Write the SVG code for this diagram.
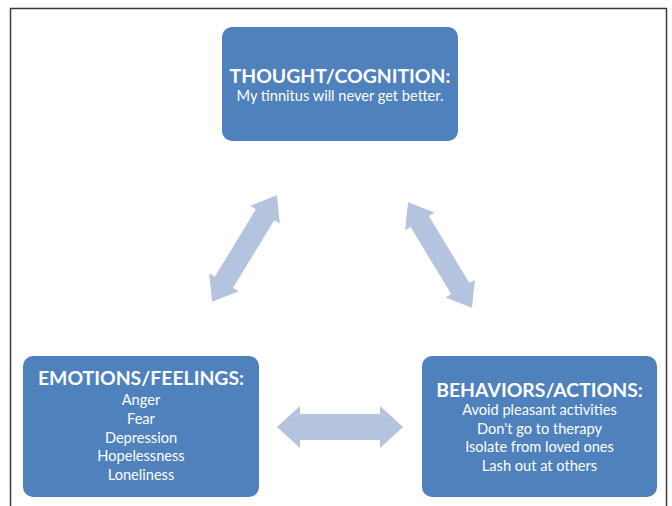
<svg xmlns="http://www.w3.org/2000/svg" width="672" height="506" viewBox="0 0 672 506">
<style>
.box{fill:#4f81bd;}
.arrow{fill:#b4c3de;}
.title{font-family:Lato,"Liberation Sans",sans-serif;font-weight:bold;font-size:19.4px;fill:#ffffff;text-anchor:middle;}
.body{font-family:Lato,"Liberation Sans",sans-serif;font-size:14.6px;fill:#ffffff;text-anchor:middle;}
</style>
<defs>
<polygon id="dblarrow" points="-63,0 -40,-21 -40,-13 40,-13 40,-21 63,0 40,21 40,13 -40,13 -40,21"/>
</defs>
<rect width="672" height="506" fill="#ffffff"/>
<path d="M10.5,520 L10.5,8.5 L666.5,8.5 L666.5,520" fill="none" stroke="#3a3a3a" stroke-width="1.5"/>
<g id="connectors">
<use href="#dblarrow" class="arrow" transform="translate(340,427)"/>
<use href="#dblarrow" class="arrow" transform="translate(244.5,248.5) rotate(-58.7) scale(0.99,0.82)"/>
<use href="#dblarrow" class="arrow" transform="translate(440,255) rotate(58.9) scale(0.98,0.82)"/>
</g>
<g id="thought">
<rect class="box" x="222" y="27" width="236" height="114" rx="10"/>
<text class="title" x="340" y="83">THOUGHT/COGNITION:</text>
<text class="body" x="340" y="101">My tinnitus will never get better.</text>
</g>
<g id="emotions">
<rect class="box" x="23" y="356" width="236" height="141" rx="10"/>
<text class="title" x="141" y="385">EMOTIONS/FEELINGS:</text>
<text class="body" x="141" y="405">Anger</text>
<text class="body" x="141" y="424">Fear</text>
<text class="body" x="141" y="443">Depression</text>
<text class="body" x="141" y="461">Hopelessness</text>
<text class="body" x="141" y="480">Loneliness</text>
</g>
<g id="behaviors">
<rect class="box" x="422" y="356" width="235" height="141" rx="10"/>
<text class="title" x="539.5" y="397">BEHAVIORS/ACTIONS:</text>
<text class="body" x="539.5" y="415">Avoid pleasant activities</text>
<text class="body" x="539.5" y="434">Don't go to therapy</text>
<text class="body" x="539.5" y="452">Isolate from loved ones</text>
<text class="body" x="539.5" y="471">Lash out at others</text>
</g>
</svg>
